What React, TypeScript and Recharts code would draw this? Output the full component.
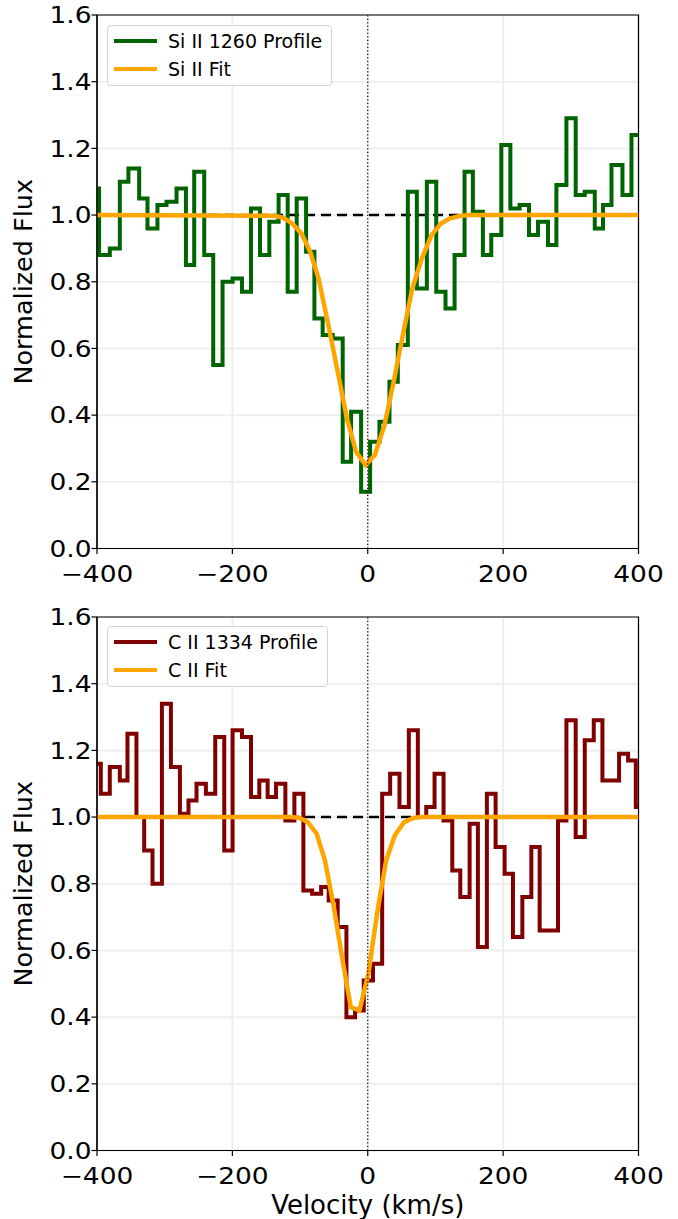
import React from 'react';
import {
  LineChart,
  Line,
  XAxis,
  YAxis,
  CartesianGrid,
  ReferenceLine,
  ReferenceArea,
  Label
} from 'recharts';

// velocity ticks (km/s) and flux ticks shared by both panels
const velTicks = [-400, -200, 0, 200, 400];
const fluxTicks = [0, 0.2, 0.4, 0.6, 0.8, 1.0, 1.2, 1.4, 1.6];

// Si II 1260: left edge of each spectral bin and its normalized flux
const siEdges = [
  -400, -396.9, -381.1, -366.3, -353.6, -337.7, -325.4, -310.7, -297.3, -282.5,
  -268.6, -256.4, -241.6, -228.3, -214.5, -199.7, -185.8, -172.5, -159.2, -145.4,
  -131.7, -118.3, -105.0, -91.1, -78.8, -66.6, -51.8, -37.0, -24.6, -9.8,
  3.5, 17.3, 32.1, 44.4, 59.2, 72.5, 87.3, 101.2, 114.9, 128.3,
  143.0, 155.3, 170.1, 182.5, 197.3, 210.7, 224.4, 238.2, 251.5, 266.3,
  278.7, 293.5, 307.2, 320.6, 335.4, 347.6, 360.1, 376.3, 389.6
];
const siFlux = [
  1.08, 0.88, 0.90, 1.10, 1.14, 1.05, 0.96, 1.03, 1.04, 1.08,
  0.85, 1.13, 0.88, 0.55, 0.80, 0.81, 0.77, 1.02, 0.88, 0.98,
  1.06, 0.77, 1.05, 0.89, 0.69, 0.64, 0.63, 0.26, 0.41, 0.17,
  0.32, 0.38, 0.50, 0.61, 1.07, 0.78, 1.10, 0.77, 0.72, 0.88,
  1.13, 1.01, 0.88, 0.94, 1.21, 1.02, 1.03, 0.94, 0.98, 0.91,
  1.09, 1.29, 1.06, 1.07, 0.96, 1.03, 1.15, 1.06, 1.24
];
const siFitVel = [
  -400, -138.5, -125.0, -111.7, -98.0, -85.0, -72.7, -59.2, -44.4, -30.8, -17.2, -3.2,
  10.4, 24.7, 38.3, 51.8, 65.9, 79.9, 94.3, 108.0, 121.6, 135.7, 149.2, 400
];
const siFitFlux = [
  1.0, 0.998, 0.992, 0.975, 0.945, 0.89, 0.81, 0.68, 0.53, 0.39, 0.29, 0.25,
  0.28, 0.37, 0.50, 0.64, 0.78, 0.87, 0.94, 0.975, 0.99, 0.997, 1.0, 1.0
];

// C II 1334
const cEdges = [
  -400, -394.4, -381.1, -366.3, -355.0, -341.7, -330.3, -318.0, -304.1, -290.8,
  -277.5, -264.8, -253.0, -239.1, -225.3, -212.0, -199.7, -185.8, -172.5, -160.2,
  -147.9, -135.5, -121.7, -108.4, -95.1, -82.2, -68.9, -57.7, -44.4, -31.5,
  -18.7, -5.9, 7.7, 21.3, 33.1, 46.9, 60.7, 74.0, 86.4, 98.7,
  112.0, 124.9, 136.7, 150.5, 162.7, 176.0, 188.9, 202.2, 214.5, 228.4,
  241.7, 254.0, 267.8, 281.1, 293.5, 307.2, 320.6, 333.9, 346.7, 360.1,
  371.3, 384.6, 396.0
];
const cFlux = [
  1.16, 1.07, 1.15, 1.11, 1.25, 1.00, 0.90, 0.80, 1.34, 1.15,
  1.01, 1.05, 1.10, 1.07, 1.24, 0.90, 1.26, 1.24, 1.06, 1.11,
  1.06, 1.10, 0.99, 1.07, 0.78, 0.77, 0.79, 0.75, 0.67, 0.40,
  0.42, 0.51, 0.56, 1.07, 1.13, 1.03, 1.26, 1.00, 1.03, 1.13,
  0.99, 0.84, 0.76, 0.98, 0.61, 1.07, 0.91, 0.83, 0.64, 0.76,
  0.91, 0.66, 0.66, 0.99, 1.29, 0.94, 1.23, 1.29, 1.11, 1.11,
  1.19, 1.17, 1.03
];
const cFitVel = [
  -400, -115.1, -101.8, -88.6, -75.5, -63.3, -51.0, -38.0, -25.1,
  -12.3, 0.9, 14.5, 27.2, 40.0, 53.8, 67.3, 80.2, 400
];
const cFitFlux = [
  1.0, 1.0, 0.998, 0.985, 0.95, 0.87, 0.74, 0.58, 0.43,
  0.42, 0.53, 0.72, 0.87, 0.945, 0.985, 0.997, 1.0, 1.0
];

// continuum level
const continuumVel = [-400, 400];
const continuumFlux = [1.0, 1.0];

const FONT = '"DejaVu Sans", sans-serif';
const ORANGE = '#ffa500';

const stepRows = (edges: number[], flux: number[]) => {
  const rows = edges.map((v, i) => ({ v, f: flux[i] }));
  rows.push({ v: 400, f: flux[flux.length - 1] });
  return rows;
};
const pairRows = (vel: number[], flux: number[]) => vel.map((v, i) => ({ v, f: flux[i] }));

const XTick = (props: any) => {
  const { x, y, payload } = props;
  const val = payload.value as number;
  const text = val < 0 ? `\u2212${Math.abs(val)}` : `${val}`;
  return (
    <text
      transform={`translate(${x},${y}) scale(1.15,1)`}
      dy={28}
      textAnchor="middle"
      fontSize={23}
      fontFamily={FONT}
      fill="#000"
    >
      {text}
    </text>
  );
};

const YTick = (props: any) => {
  const { x, y, payload } = props;
  return (
    <text
      transform={`translate(${x},${y}) scale(1.15,1)`}
      dy={8.3}
      textAnchor="end"
      fontSize={23}
      fontFamily={FONT}
      fill="#000"
    >
      {(payload.value as number).toFixed(1)}
    </text>
  );
};

interface LegendProps {
  top: number;
  width: number;
  profileLabel: string;
  profileColor: string;
  fitLabel: string;
}

const PanelLegend: React.FC<LegendProps> = ({ top, width, profileLabel, profileColor, fitLabel }) => {
  const row = (color: string, label: string, y: number) => (
    <div style={{ position: 'absolute', left: 0, top: y - 14, height: 28, display: 'flex', alignItems: 'center' }}>
      <div style={{ marginLeft: 6, width: 43, height: 4.3, background: color }} />
      <span style={{ marginLeft: 11, fontFamily: FONT, fontSize: 19, color: '#000', whiteSpace: 'nowrap' }}>{label}</span>
    </div>
  );
  return (
    <div
      style={{
        position: 'absolute',
        left: 107,
        top,
        width,
        height: 61,
        boxSizing: 'border-box',
        border: '1px solid #d5d5d5',
        borderRadius: 4,
        background: 'rgba(255,255,255,0.85)'
      }}
    >
      {row(profileColor, profileLabel, 15)}
      {row(ORANGE, fitLabel, 43)}
    </div>
  );
};

interface PanelProps {
  height: number;
  top: number;
  axisHeight: number;
  edges: number[];
  flux: number[];
  fitVel: number[];
  fitFlux: number[];
  color: string;
  xLabel?: string;
}

const Panel: React.FC<PanelProps> = ({ height, top, axisHeight, edges, flux, fitVel, fitFlux, color, xLabel }) => {
  const profile = stepRows(edges, flux);
  const fit = pairRows(fitVel, fitFlux);
  const continuum = pairRows(continuumVel, continuumFlux);
  return (
    <LineChart width={678} height={height} margin={{ top, right: 39.5, left: 0, bottom: 0 }}>
      <CartesianGrid stroke="#eeeeee" strokeWidth={2} />
      <XAxis
        type="number"
        dataKey="v"
        domain={[-400, 400]}
        ticks={velTicks}
        interval={0}
        height={axisHeight}
        tick={<XTick />}
        tickSize={5.5}
        tickMargin={0}
        tickLine={{ stroke: '#000', strokeWidth: 1.2 }}
        axisLine={{ stroke: '#000', strokeWidth: 1.2 }}
        allowDataOverflow
      >
        {xLabel && (
          <Label
            content={(p: any) => {
              const vb = p.viewBox || { x: 97, y: 550.5, width: 541 };
              return (
                <text
                  x={vb.x + vb.width / 2}
                  y={vb.y + 63.5}
                  textAnchor="middle"
                  fontSize={26}
                  fontFamily={FONT}
                  fill="#000"
                >
                  {xLabel}
                </text>
              );
            }}
          />
        )}
      </XAxis>
      <YAxis
        type="number"
        domain={[0, 1.6]}
        ticks={fluxTicks}
        interval={0}
        width={97}
        tick={<YTick />}
        tickSize={5.5}
        tickMargin={0}
        tickLine={{ stroke: '#000', strokeWidth: 1.2 }}
        axisLine={{ stroke: '#000', strokeWidth: 1.2 }}
        allowDataOverflow
      >
        <Label
          content={(p: any) => {
            const vb = p.viewBox || { y: top, height: 533.5 };
            return (
              <text
                transform={`translate(32,${vb.y + vb.height / 2}) rotate(-90)`}
                textAnchor="middle"
                fontSize={25.5}
                fontFamily={FONT}
                fill="#000"
              >
                Normalized Flux
              </text>
            );
          }}
        />
      </YAxis>
      <Line
        data={continuum}
        dataKey="f"
        type="linear"
        stroke="#000"
        strokeWidth={2.6}
        strokeDasharray="10 6"
        dot={false}
        activeDot={false}
        isAnimationActive={false}
      />
      <Line
        data={profile}
        dataKey="f"
        type="stepAfter"
        stroke={color}
        strokeWidth={4}
        strokeLinejoin="miter"
        dot={false}
        activeDot={false}
        isAnimationActive={false}
      />
      <Line
        data={fit}
        dataKey="f"
        type="linear"
        stroke={ORANGE}
        strokeWidth={4.5}
        dot={false}
        activeDot={false}
        isAnimationActive={false}
      />
      <ReferenceLine x={0} stroke="#000" strokeWidth={1.2} strokeDasharray="1.3 2.2" />
      <ReferenceArea x1={-400} x2={400} y1={0} y2={1.6} fill="none" stroke="#000" strokeWidth={1.2} fillOpacity={0} />
    </LineChart>
  );
};

export default function App() {
  return (
    <div style={{ width: 678, height: 1219, position: 'relative', background: '#fff', overflow: 'hidden' }}>
      <style>{'body{margin:0;background:#fff}'}</style>
      <div style={{ position: 'absolute', left: 0, top: 0, width: 678, height: 600 }}>
        <Panel
          height={600}
          top={15}
          axisHeight={51.5}
          edges={siEdges}
          flux={siFlux}
          fitVel={siFitVel}
          fitFlux={siFitFlux}
          color="#006400"
        />
        <PanelLegend top={25} width={225} profileLabel="Si II 1260 Profile" profileColor="#006400" fitLabel="Si II Fit" />
      </div>
      <div style={{ position: 'absolute', left: 0, top: 600, width: 678, height: 619 }}>
        <Panel
          height={619}
          top={17}
          axisHeight={68.5}
          edges={cEdges}
          flux={cFlux}
          fitVel={cFitVel}
          fitFlux={cFitFlux}
          color="#800000"
          xLabel="Velocity (km/s)"
        />
        <PanelLegend top={26} width={221} profileLabel="C II 1334 Profile" profileColor="#800000" fitLabel="C II Fit" />
      </div>
    </div>
  );
}
